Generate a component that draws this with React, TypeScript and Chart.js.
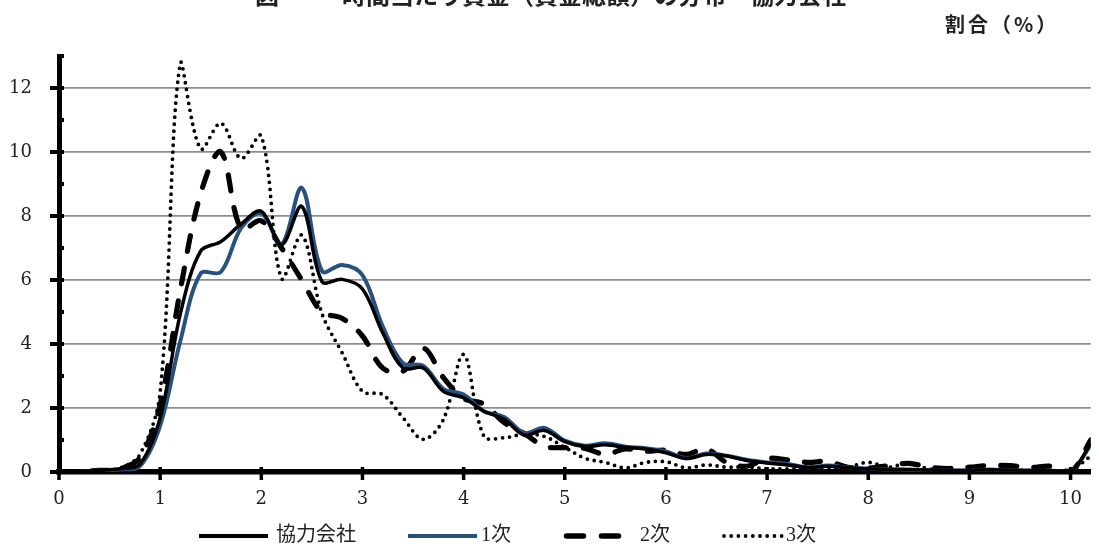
import React, { useEffect, useRef } from "react";
import { Chart, registerables } from "chart.js";

Chart.register(...registerables);

const xValues = [
  0, 0.2, 0.4, 0.6, 0.8, 1.0, 1.2, 1.4, 1.6, 1.8, 2.0, 2.2, 2.4, 2.6, 2.8, 3.0, 3.2, 3.4, 3.6, 3.8,
  4.0, 4.2, 4.4, 4.6, 4.8, 5.0, 5.2, 5.4, 5.6, 5.8, 6.0, 6.2, 6.4, 6.6, 6.8, 7.0, 7.2, 7.4, 7.6, 7.8,
  8.0, 8.2, 8.4, 8.6, 8.8, 9.0, 9.2, 9.4, 9.6, 9.8, 10.0, 10.2,
];

const kyoryoku = [
  0.0, 0.02, 0.05, 0.1, 0.25, 1.7, 4.95, 6.9, 7.2, 7.75, 8.15, 7.1, 8.3, 5.95, 6.02, 5.72, 4.35, 3.25, 3.25, 2.52,
  2.32, 1.9, 1.65, 1.15, 1.3, 0.95, 0.8, 0.85, 0.77, 0.72, 0.6, 0.42, 0.55, 0.5, 0.36, 0.28, 0.22, 0.14, 0.18, 0.13,
  0.1, 0.08, 0.08, 0.06, 0.05, 0.05, 0.07, 0.06, 0.05, 0.05, 0.0, 0.88,
];

const ichiji = [
  0.0, 0.01, 0.04, 0.08, 0.18, 1.45, 4.1, 6.2, 6.25, 7.62, 8.08, 7.12, 8.88, 6.28, 6.47, 6.15, 4.55, 3.4, 3.32, 2.6,
  2.42, 1.9, 1.72, 1.22, 1.38, 0.98, 0.82, 0.9, 0.79, 0.74, 0.64, 0.43, 0.58, 0.51, 0.38, 0.3, 0.25, 0.15, 0.2, 0.14,
  0.1, 0.08, 0.07, 0.05, 0.05, 0.05, 0.08, 0.05, 0.04, 0.04, 0.0, 0.85,
];

const niji = [
  0.0, 0.02, 0.05, 0.1, 0.45, 2.1, 5.7, 8.7, 10.0, 7.6, 7.85, 7.0, 6.0, 5.0, 4.8, 4.25, 3.25, 3.15, 3.87, 2.95,
  2.3, 2.12, 1.55, 1.2, 0.8, 0.76, 0.74, 0.55, 0.72, 0.65, 0.68, 0.55, 0.72, 0.3, 0.18, 0.42, 0.38, 0.3, 0.33, 0.15,
  0.12, 0.2, 0.27, 0.15, 0.11, 0.15, 0.2, 0.2, 0.14, 0.18, 0.0, 1.0,
];

const sanji = [
  0.0, 0.02, 0.05, 0.12, 0.55, 2.5, 12.8, 10.1, 10.9, 9.8, 10.5, 6.05, 7.4, 4.95, 3.72, 2.52, 2.42, 1.7, 1.02, 1.64,
  3.67, 1.12, 1.07, 1.18, 1.11, 0.77, 0.43, 0.3, 0.13, 0.3, 0.32, 0.13, 0.22, 0.15, 0.16, 0.1, 0.1, 0.12, 0.08, 0.15,
  0.3, 0.15, 0.28, 0.1, 0.05, 0.04, 0.04, 0.04, 0.05, 0.03, 0.05, 0.5,
];

const seriesLabels = ["協力会社", "1次", "2次", "3次"];
const yTickMax = 13;
const xTickMax = 10.2;

const BLUE = "#27527f";
const SERIF = "'DejaVu Serif', serif";
const JP = "'Liberation Serif', 'Noto Sans CJK JP', serif";

const toPts = (vals: number[]) => vals.map((y, i) => ({ x: xValues[i], y }));

const decorPlugin = {
  id: "decor",
  afterDraw(chart: any) {
    const ctx = chart.ctx as CanvasRenderingContext2D;
    const xs = chart.scales.x;
    const ys = chart.scales.y;
    const left = chart.chartArea.left;
    const bottom = chart.chartArea.bottom;
    ctx.save();
    ctx.strokeStyle = "#000";
    ctx.lineWidth = 4;
    ctx.lineCap = "butt";
    ctx.setLineDash([]);
    // y ticks
    for (let v = 0; v <= 13; v++) {
      const py = ys.getPixelForValue(v);
      ctx.beginPath();
      if (v % 2 === 0) {
        ctx.moveTo(left - 9, py);
        ctx.lineTo(left + 5, py);
      } else {
        ctx.moveTo(left - 2, py);
        ctx.lineTo(left + 5, py);
      }
      ctx.stroke();
    }
    // x ticks
    ctx.lineWidth = 3.5;
    for (let v = 0; v <= 10; v++) {
      const px = xs.getPixelForValue(v);
      ctx.beginPath();
      ctx.moveTo(px, bottom - 5);
      ctx.lineTo(px, bottom + 8);
      ctx.stroke();
    }

    // legend
    const ly = 536;
    const items = [
      { x0: 199, x1: 268, tx: 276, color: "#000", width: 3.8, dash: [] as number[], cap: "butt" },
      { x0: 408, x1: 477, tx: 481, color: BLUE, width: 4.2, dash: [] as number[], cap: "butt" },
      { x0: 566.5, x1: 620, tx: 640, color: "#000", width: 5.5, dash: [17, 18], cap: "round" },
      { x0: 724, x1: 782, tx: 786, color: "#000", width: 3.8, dash: [0, 7.2], cap: "round" },
    ];
    items.forEach((it, i) => {
      ctx.beginPath();
      ctx.strokeStyle = it.color;
      ctx.lineWidth = it.width;
      ctx.setLineDash(it.dash);
      ctx.lineCap = it.cap as CanvasLineCap;
      ctx.moveTo(it.x0, ly);
      ctx.lineTo(it.x1, ly);
      ctx.stroke();
      ctx.setLineDash([]);
      ctx.fillStyle = "#222";
      ctx.font = `20px ${JP}`;
      ctx.textBaseline = "middle";
      ctx.textAlign = "left";
      ctx.fillText(seriesLabels[i], it.tx, ly);
    });

    // unit label
    ctx.fillStyle = "#222";
    ctx.font = `bold 20px 'Noto Sans CJK JP', sans-serif`;
    (ctx as any).letterSpacing = "3px";
    ctx.textBaseline = "middle";
    ctx.textAlign = "left";
    ctx.fillText("割合（%）", 945, 24);
    (ctx as any).letterSpacing = "0px";

    // title (cut at top)
    ctx.font = `bold 24px 'Noto Sans CJK JP', sans-serif`;
    ctx.textBaseline = "alphabetic";
    ctx.fillText("図", 255, 4);
    ctx.fillText("時間当たり賃金（賃金総額）の分布－協力会社", 342, 4);
    ctx.restore();
  },
};

export default function App() {
  const ref = useRef<HTMLCanvasElement | null>(null);
  useEffect(() => {
    if (!ref.current) return;
    const chart = new Chart(ref.current, {
      type: "line",
      data: {
        datasets: [
          {
            label: seriesLabels[0],
            data: toPts(kyoryoku),
            borderColor: "#000",
            borderWidth: 3.5,
            pointRadius: 0,
            tension: 0.35,
            fill: false,
          },
          {
            label: seriesLabels[1],
            data: toPts(ichiji),
            borderColor: BLUE,
            borderWidth: 4,
            pointRadius: 0,
            tension: 0.35,
            fill: false,
          },
          {
            label: seriesLabels[2],
            data: toPts(niji),
            borderColor: "#000",
            borderWidth: 5.2,
            borderDash: [16, 17],
            borderCapStyle: "round",
            pointRadius: 0,
            tension: 0.35,
            fill: false,
          },
          {
            label: seriesLabels[3],
            data: toPts(sanji),
            borderColor: "#000",
            borderWidth: 3.8,
            borderDash: [0, 7],
            borderCapStyle: "round",
            pointRadius: 0,
            tension: 0.35,
            fill: false,
          },
        ],
      },
      options: {
        animation: false,
        responsive: false,
        maintainAspectRatio: false,
        devicePixelRatio: 1,
        layout: { padding: { top: 56, left: 0, right: 0, bottom: 0 } },
        plugins: { legend: { display: false }, tooltip: { enabled: false }, title: { display: false } },
        scales: {
          x: {
            type: "linear",
            min: 0,
            max: xTickMax,
            afterFit: (s: any) => {
              s.height = 77;
            },
            ticks: {
              stepSize: 1,
              includeBounds: false,
              autoSkip: false,
              maxRotation: 0,
              padding: 17,
              color: "#222",
              font: { family: SERIF, size: 18 },
            },
            grid: { display: false, drawTicks: false },
            border: { display: true, color: "#000", width: 5.5 },
          },
          y: {
            type: "linear",
            min: 0,
            max: yTickMax,
            afterFit: (s: any) => {
              s.width = 59;
            },
            ticks: {
              stepSize: 1,
              autoSkip: false,
              padding: 27,
              color: "#222",
              font: { family: SERIF, size: 18 },
              callback: (v: any) => (Number(v) % 2 === 0 ? String(v) : ""),
            },
            grid: {
              drawTicks: false,
              lineWidth: 1.8,
              color: (c: any) =>
                c.tick && c.tick.value % 2 === 0 && c.tick.value > 0 && c.tick.value < 13
                  ? "#8c8c8c"
                  : "rgba(0,0,0,0)",
            },
            border: { display: true, color: "#000", width: 5 },
          },
        },
      },
      plugins: [decorPlugin],
    });
    return () => chart.destroy();
  }, []);
  return (
    <div style={{ position: "absolute", left: 0, top: 0, width: 1099, height: 549, background: "#fff" }}>
      <canvas ref={ref} width={1099} height={549} style={{ width: 1099, height: 549, display: "block" }} />
    </div>
  );
}
